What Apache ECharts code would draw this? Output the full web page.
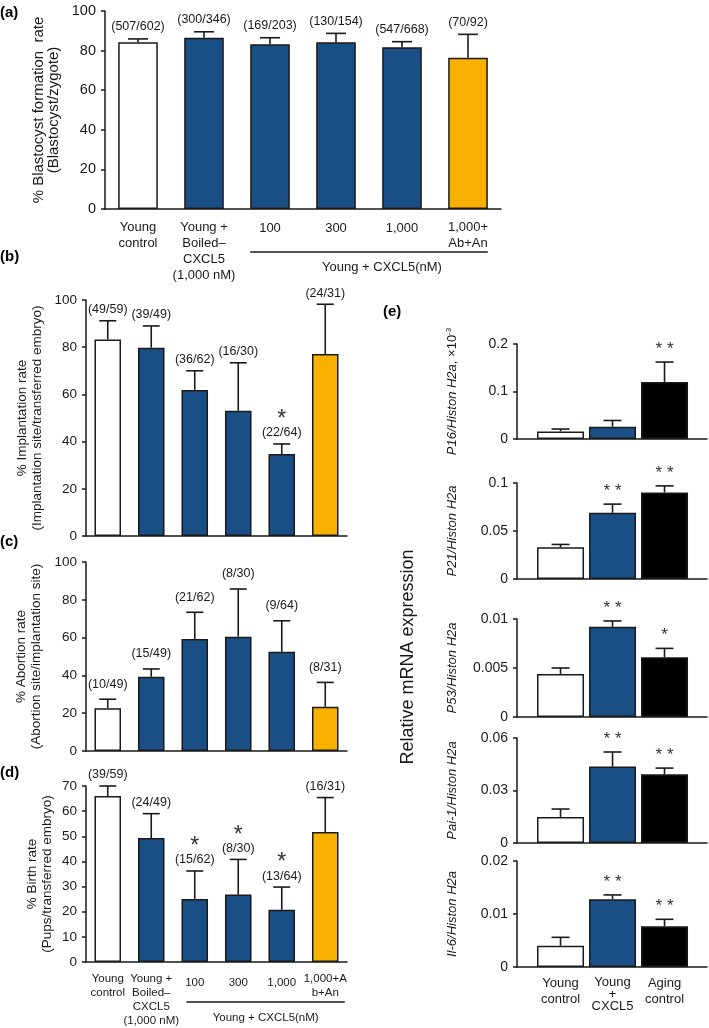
<!DOCTYPE html>
<html><head><meta charset="utf-8">
<script src="https://cdn.jsdelivr.net/npm/echarts@6/dist/echarts.min.js"></script>
<style>html,body{margin:0;padding:0;background:#fff}#c{width:709px;height:1028px}</style>
</head><body><div id="c"></div>
<script>
// ---------- data ----------
const groupsA = ['Young\ncontrol', 'Young +\nBoiled–\nCXCL5\n(1,000 nM)', '100', '300', '1,000', '1,000+\nAb+An'];
const groupsD = ['Young\ncontrol', 'Young +\nBoiled–\nCXCL5\n(1,000 nM)', '100', '300', '1,000', '1,000+A\nb+An'];
const dosesTitle = 'Young + CXCL5(nM)';

const blastMean = [84.2, 86.5, 83.2, 84.2, 81.7, 76.4];
const blastSem  = [1.7, 3.0, 3.3, 4.5, 2.8, 11.8];
const blastN    = ['(507/602)', '(300/346)', '(169/203)', '(130/154)', '(547/668)', '(70/92)'];

const implMean = [83.3, 79.8, 61.9, 53.1, 34.7, 77.1];
const implSem  = [7.9, 9.2, 8.1, 20.3, 4.3, 21.1];
const implN    = ['(49/59)', '(39/49)', '(36/62)', '(16/30)', '(22/64)', '(24/31)'];
const implSig  = ['', '', '', '', '*', ''];

const abortMean = [22.6, 39.3, 59.3, 60.5, 52.5, 23.4];
const abortSem  = [4.8, 4.1, 14.1, 25.2, 16.4, 12.9];
const abortN    = ['(10/49)', '(15/49)', '(21/62)', '(8/30)', '(9/64)', '(8/31)'];

const birthMean = [66.0, 49.3, 25.1, 26.8, 20.8, 51.7];
const birthSem  = [4.0, 9.7, 11.1, 14.0, 9.0, 13.7];
const birthN    = ['(39/59)', '(24/49)', '(15/62)', '(8/30)', '(13/64)', '(16/31)'];
const birthSig  = ['', '', '*', '*', '*', ''];

const groupsE = ['Young control', 'Young + CXCL5', 'Aging control'];
const p16Mean = [0.016, 0.026, 0.120];   const p16Sem = [0.005, 0.013, 0.042];   const p16Sig = ['', '', '* *'];
const p21Mean = [0.033, 0.069, 0.090];   const p21Sem = [0.003, 0.009, 0.007];   const p21Sig = ['', '* *', '* *'];
const p53Mean = [0.0044, 0.0092, 0.0061]; const p53Sem = [0.0006, 0.0006, 0.0009]; const p53Sig = ['', '* *', '*'];
const paiMean = [0.0149, 0.0437, 0.0393]; const paiSem = [0.0045, 0.0083, 0.0035]; const paiSig = ['', '* *', '* *'];
const il6Mean = [0.0040, 0.0128, 0.0077]; const il6Sem = [0.0016, 0.0008, 0.0013]; const il6Sig = ['', '* *', '* *'];

// ---------- style ----------
const FONT = '"Liberation Sans", Arial, Helvetica, sans-serif';
const INK = '#1a1a1a';
const NAVY = '#1a4f86', ORANGE = '#f8b100';
const colorsA = ['#ffffff', NAVY, NAVY, NAVY, NAVY, ORANGE];
const colorsE = ['#ffffff', NAVY, '#000000'];

const chart = echarts.init(document.getElementById('c'), null, {renderer: 'canvas'});

const grids = [
  {left: 105, top: 11, width: 396, height: 198},
  {left: 86, top: 300, width: 261, height: 236},
  {left: 86, top: 562, width: 261, height: 189},
  {left: 86, top: 786, width: 261, height: 176},
  {left: 517, top: 344, width: 190, height: 95},
  {left: 517, top: 483, width: 190, height: 96},
  {left: 517, top: 619, width: 190, height: 98},
  {left: 517, top: 738, width: 190, height: 105},
  {left: 517, top: 861, width: 190, height: 106}
].map(g => Object.assign({containLabel: false, outerBoundsMode: 'none'}, g));

const axisLine = {show: true, lineStyle: {color: INK, width: 1.5}};

function catX(gi, labels, showLabels, fs, lh, pad) {
  return {
    type: 'category', gridIndex: gi, data: labels, boundaryGap: true,
    axisLine: axisLine, axisTick: {show: false},
    axisLabel: {
      show: showLabels, interval: 0, color: INK, fontFamily: FONT, fontSize: fs, lineHeight: lh, margin: 10,
      formatter: v => v.indexOf('\n') >= 0 ? v : '{s|' + v + '}',
      rich: {s: {fontSize: fs, fontFamily: FONT, color: INK, padding: [pad, 0, 0, 0]}}
    }
  };
}
function valY(gi, max, interval, name, nameGap, fs, nfs, nameRich) {
  return {
    type: 'value', gridIndex: gi, min: 0, max: max, interval: interval,
    axisLine: axisLine, axisTick: {show: true, length: 4, lineStyle: {color: INK, width: 1.5}},
    splitLine: {show: false},
    axisLabel: {color: INK, fontFamily: FONT, fontSize: fs, margin: 9},
    name: name, nameLocation: 'middle', nameRotate: 90, nameGap: nameGap,
    nameTextStyle: Object.assign({color: INK, fontFamily: FONT, fontSize: nfs, lineHeight: 15}, nameRich ? {rich: nameRich} : {})
  };
}
function valXE(gi, showLabels) {
  return {
    type: 'value', gridIndex: gi, min: 0.163, max: 3.817,
    axisLine: axisLine, axisTick: {show: false}, splitLine: {show: false},
    axisLabel: {
      show: showLabels, customValues: [1, 2, 3], color: INK, fontFamily: FONT, fontSize: 13, margin: 8,
      formatter: v => {
        const s = groupsE[Math.round(v) - 1] || '';
        if (s === 'Young + CXCL5') return '{t|Young}\n{t|+}\n{t|CXCL5}';
        return '{u|' + s.split(' ').join('}\n{u|') + '}';
      },
      rich: {t: {fontSize: 13, lineHeight: 12, fontFamily: FONT, color: INK, padding: [2, 0, 0, 0]},
             u: {fontSize: 13, lineHeight: 16, fontFamily: FONT, color: INK}}
    }
  };
}

function bars(gi, xs, means, colors, width) {
  return {
    type: 'bar', xAxisIndex: gi, yAxisIndex: gi, barWidth: width, silent: true, z: 2,
    data: means.map((v, i) => ({value: xs ? [xs[i], v] : v, itemStyle: {color: colors[i]}})),
    itemStyle: {borderColor: INK, borderWidth: 1.5}
  };
}
function errs(gi, xs, means, sems, labels, sigs, cfg) {
  return {
    type: 'custom', xAxisIndex: gi, yAxisIndex: gi, z: 5, silent: true,
    data: means.map((m, i) => [xs ? xs[i] : i, m, m + sems[i]]),
    renderItem: (params, api) => {
      const idx = params.dataIndex;
      const x = api.value(0);
      const p0 = api.coord([x, api.value(1)]);
      const p1 = api.coord([x, api.value(2)]);
      const c = cfg.cap / 2;
      const ch = [
        {type: 'line', shape: {x1: p0[0], y1: p0[1], x2: p1[0], y2: p1[1]}, style: {stroke: INK, lineWidth: 1.6}},
        {type: 'line', shape: {x1: p1[0] - c, y1: p1[1], x2: p1[0] + c, y2: p1[1]}, style: {stroke: INK, lineWidth: 1.6}}
      ];
      let y = p1[1];
      if (labels && labels[idx]) {
        y -= cfg.labelGap;
        ch.push({type: 'text', style: {text: labels[idx], x: p1[0], y: y, align: 'center', verticalAlign: 'middle',
          fontSize: cfg.labelSize, fontFamily: FONT, fill: INK}});
      }
      if (sigs && sigs[idx]) {
        ch.push({type: 'text', style: {text: sigs[idx], x: p1[0], y: y - cfg.sigGap, align: 'center', verticalAlign: 'middle',
          fontSize: cfg.sigSize, fontFamily: FONT, fill: '#333'}});
      }
      return {type: 'group', children: ch};
    }
  };
}

const xsE = [1, 2, 3];
const eRich = {i: {fontStyle: 'italic', fontSize: 13, fontFamily: FONT, color: INK},
               n: {fontSize: 13, fontFamily: FONT, color: INK},
               s: {fontSize: 8, fontFamily: FONT, color: INK, verticalAlign: 'top', padding: [0, 0, 8, 0]}};

const option = {
  animation: false,
  backgroundColor: '#ffffff',
  grid: grids,
  xAxis: [
    catX(0, groupsA, true, 13, 16, 3),
    catX(1, groupsA, false, 12, 14, 0),
    catX(2, groupsA, false, 12, 14, 0),
    catX(3, groupsD, true, 11.5, 14, 7),
    valXE(4, false), valXE(5, false), valXE(6, false), valXE(7, false), valXE(8, true)
  ],
  yAxis: [
    valY(0, 100, 20, '% Blastocyst formation  rate\n(Blastocyst/zygote)', 36, 14.5, 15),
    valY(1, 100, 20, '% Implantation rate\n(Implantation site/transferred embryo)', 41, 13.5, 13.5),
    valY(2, 100, 20, '% Abortion rate\n(Abortion site/implantation site)', 42, 13.5, 13.5),
    valY(3, 70, 10, '% Birth rate\n(Pups/transferred embryo)', 31, 13.5, 13.5),
    valY(4, 0.2, 0.1, '{i|P16/Histon H2a}{n|, ×10}{s|-3}', 57, 14, 13, eRich),
    valY(5, 0.1, 0.05, '{i|P21/Histon H2a}', 57, 14, 13, eRich),
    valY(6, 0.01, 0.005, '{i|P53/Histon H2a}', 57, 14, 13, eRich),
    valY(7, 0.06, 0.03, '{i|Pai-1/Histon H2a}', 57, 14, 13, eRich),
    valY(8, 0.02, 0.01, '{i|Il-6/Histon H2a}', 57, 14, 13, eRich)
  ],
  series: [
    bars(0, null, blastMean, colorsA, '60%'),
    errs(0, null, blastMean, blastSem, blastN, null, {cap: 20, labelGap: 12, labelSize: 12.5}),
    bars(1, null, implMean, colorsA, '61%'),
    errs(1, null, implMean, implSem, implN, implSig, {cap: 17, labelGap: 11, labelSize: 12.5, sigGap: 13, sigSize: 23}),
    bars(2, null, abortMean, colorsA, '61%'),
    errs(2, null, abortMean, abortSem, abortN, null, {cap: 17, labelGap: 15, labelSize: 12.5}),
    bars(3, null, birthMean, colorsA, '61%'),
    errs(3, null, birthMean, birthSem, birthN, birthSig, {cap: 17, labelGap: 11, labelSize: 12.5, sigGap: 13, sigSize: 23}),
    bars(4, xsE, p16Mean, colorsE, 47), errs(4, xsE, p16Mean, p16Sem, null, p16Sig, {cap: 18, sigGap: 13, sigSize: 17}),
    bars(5, xsE, p21Mean, colorsE, 47), errs(5, xsE, p21Mean, p21Sem, null, p21Sig, {cap: 18, sigGap: 13, sigSize: 17}),
    bars(6, xsE, p53Mean, colorsE, 47), errs(6, xsE, p53Mean, p53Sem, null, p53Sig, {cap: 18, sigGap: 13, sigSize: 17}),
    bars(7, xsE, paiMean, colorsE, 47), errs(7, xsE, paiMean, paiSem, null, paiSig, {cap: 18, sigGap: 13, sigSize: 17}),
    bars(8, xsE, il6Mean, colorsE, 47), errs(8, xsE, il6Mean, il6Sem, null, il6Sig, {cap: 18, sigGap: 13, sigSize: 17})
  ],
  graphic: [
    {type: 'text', x: 0, y: 13, style: {text: '(a)', fontSize: 15, fontWeight: 'bold', fontFamily: FONT, fill: '#000', verticalAlign: 'middle'}},
    {type: 'text', x: 0, y: 257, style: {text: '(b)', fontSize: 15, fontWeight: 'bold', fontFamily: FONT, fill: '#000', verticalAlign: 'middle'}},
    {type: 'text', x: 0, y: 542, style: {text: '(c)', fontSize: 15, fontWeight: 'bold', fontFamily: FONT, fill: '#000', verticalAlign: 'middle'}},
    {type: 'text', x: 0, y: 773, style: {text: '(d)', fontSize: 15, fontWeight: 'bold', fontFamily: FONT, fill: '#000', verticalAlign: 'middle'}},
    {type: 'text', x: 383, y: 312, style: {text: '(e)', fontSize: 15, fontWeight: 'bold', fontFamily: FONT, fill: '#000', verticalAlign: 'middle'}},
    {type: 'text', x: 408, y: 657, rotation: Math.PI / 2,
     style: {text: 'Relative mRNA expression', fontSize: 18, fontFamily: FONT, fill: INK, align: 'center', verticalAlign: 'middle'}}
  ]
};
chart.setOption(option);

// dose bracket under (a) and (d), positioned from the category axes
function bracket(gi, leftFrac, rightFrac, dy, tdy, tdx, fs) {
  const c2 = chart.convertToPixel({xAxisIndex: gi}, 2);
  const c3 = chart.convertToPixel({xAxisIndex: gi}, 3);
  const c5 = chart.convertToPixel({xAxisIndex: gi}, 5);
  const band = c3 - c2;
  const y0 = chart.convertToPixel({yAxisIndex: gi}, 0);
  const x1 = c2 - leftFrac * band, x2 = c5 + rightFrac * band;
  return [
    {type: 'line', shape: {x1: x1, y1: y0 + dy, x2: x2, y2: y0 + dy}, style: {stroke: INK, lineWidth: 1.5}},
    {type: 'text', x: (x1 + x2) / 2 + tdx, y: y0 + tdy,
     style: {text: dosesTitle, fontSize: fs, fontFamily: FONT, fill: INK, align: 'center', verticalAlign: 'middle'}}
  ];
}
chart.setOption({graphic: option.graphic.concat(bracket(0, 0.3, 0.3, 43, 58, 13, 13), bracket(3, 0.19, 0.45, 40, 56, 0, 11.5))});
</script></body></html>
